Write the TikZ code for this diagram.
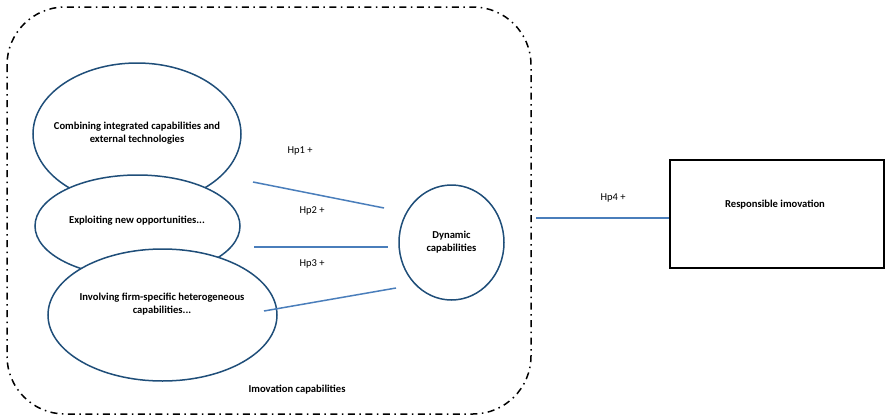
\documentclass[tikz,border=0pt]{standalone}
\usepackage{fontspec}
\setmainfont{Carlito}
\usetikzlibrary{shapes.geometric,calc}
\definecolor{ellblue}{HTML}{1F4E79}
\definecolor{lineblue}{HTML}{4A7EBB}
\begin{document}
\begin{tikzpicture}[x=1pt,y=-1pt,
  ell/.style={ellipse, draw=ellblue, line width=1.5pt, fill=white, inner sep=0pt},
  lbl/.style={font=\bfseries\fontsize{10.6}{13}\selectfont, align=center, inner sep=0pt},
  hp/.style={font=\fontsize{10.5}{12}\selectfont, inner sep=0pt},
  link/.style={draw=lineblue, line width=1.5pt}]
\useasboundingbox (0,0) rectangle (887,418);
% frame
\draw[line width=1.5pt, rounded corners=58pt, dash pattern=on 7pt off 4.5pt on 1.5pt off 4.5pt] (7,7) rectangle (531,414);
% ellipses
\node[ell, minimum width=208pt, minimum height=142pt] (e1) at (137,134) {};
\node[ell, minimum width=205pt, minimum height=102pt] (e2) at (137.5,226) {};
\node[ell, minimum width=229pt, minimum height=132pt] (e3) at (162.5,315) {};
\node[lbl] (t1) at (137,133) {Combining integrated capabilities and\\external technologies};
\node[lbl] (t2) at (137,221) {Exploiting new opportunities...};
\node[lbl] (t3) at (162,304) {Involving firm-specific heterogeneous\\capabilities...};
\node[ell, lbl, minimum width=105pt, minimum height=115pt] (dyn) at (451.5,242.5) {Dynamic\\capabilities};
% box
\node[draw=black, line width=1.6pt, minimum width=214pt, minimum height=108pt, inner sep=0pt] (box) at (777,214) {};
\node[lbl] (tb) at (775,205) {Responsible imovation};
% connectors
\coordinate (h1a) at (253,182);
\coordinate (h1b) at (384,208);
\coordinate (h2a) at (254,247);
\coordinate (h2b) at (388,247);
\coordinate (h3a) at (264,311);
\coordinate (h3b) at (396,288);
\coordinate (h4a) at (536,218);
\draw[link] (h1a) -- (h1b);
\draw[link] (h2a) -- (h2b);
\draw[link] (h3a) -- (h3b);
\draw[link] (h4a) -- (h4a -| box.west);
% labels
\node[hp] (hp1) at (300,151) {Hp1 +};
\node[hp] (hp2) at (312,211) {Hp2 +};
\node[hp] (hp3) at (312,264) {Hp3 +};
\node[hp] (hp4) at (613,198) {Hp4 +};
\node[lbl] (inn) at (297,390) {Imovation capabilities};
\end{tikzpicture}
\end{document}
